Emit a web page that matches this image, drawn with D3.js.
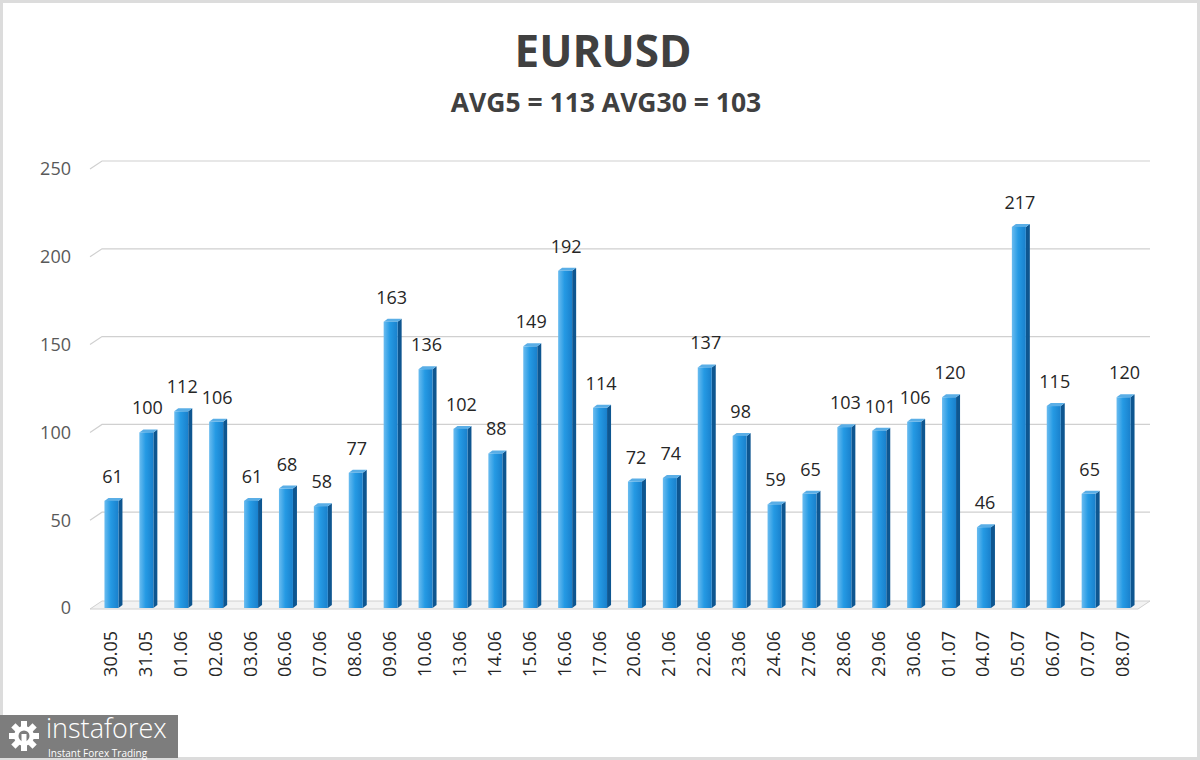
<!DOCTYPE html>
<html><head><meta charset="utf-8">
<script src="https://cdn.jsdelivr.net/npm/d3@7"></script>
<style>html,body{margin:0;padding:0;background:#fff;}svg{display:block;}</style>
</head><body>
<svg id="c" width="1200" height="760"></svg>
<script>
const dates = ["30.05","31.05","01.06","02.06","03.06","06.06","07.06","08.06","09.06","10.06","13.06","14.06","15.06","16.06","17.06","20.06","21.06","22.06","23.06","24.06","27.06","28.06","29.06","30.06","01.07","04.07","05.07","06.07","07.07","08.07"];
const values = [61,100,112,106,61,68,58,77,163,136,102,88,149,192,114,72,74,137,98,59,65,103,101,106,120,46,217,115,65,120];
const yTicks = [0,50,100,150,200,250];
const titleText = "EURUSD";
const subtitleText = "AVG5 = 113 AVG30 = 103";

const svg = d3.select("#c");
const W = 1200, H = 760;
const font = "'Open Sans', sans-serif";

// border
svg.append("rect").attr("x",1.5).attr("y",1.5).attr("width",W-3).attr("height",H-3)
  .attr("fill","#fff").attr("stroke","#dcdcdc").attr("stroke-width",3);

const x = d3.scaleBand().domain(dates).range([96,1143]).paddingInner(0.48).paddingOuter(0.24);
const y = d3.scaleLinear().domain([0,250]).range([608,169]);
const DX = 12, DY = -8;
const left = 90, right = 1138;

// floor
const y0 = y(0);
svg.append("path")
  .attr("d",`M${left},${y0+1}L${right},${y0+1}L${right+DX},${y0+1+DY}L${left+DX},${y0+1+DY}Z`)
  .attr("fill","#f3f3f3").attr("stroke","#d0d0d0").attr("stroke-width",1);

// gridlines (back wall) with diagonal
yTicks.filter(t=>t>0).forEach(t=>{
  const yy = y(t);
  svg.append("path")
    .attr("d",`M${left},${yy}L${left+DX},${yy+DY}L${right+DX},${yy+DY}`)
    .attr("fill","none").attr("stroke","#d0d0d0").attr("stroke-width",1.2);
});

// y labels
svg.append("g").selectAll("text").data(yTicks).join("text")
  .attr("x",71).attr("y",d=>y(d)).attr("dy","0.36em")
  .attr("text-anchor","end").attr("font-family",font).attr("font-size",18)
  .attr("fill","#595959").text(d=>d);

// gradient
const defs = svg.append("defs");
const g = defs.append("linearGradient").attr("id","fg").attr("x1",0).attr("x2",1).attr("y1",0).attr("y2",0);
g.append("stop").attr("offset","0%").attr("stop-color","#6abcf0");
g.append("stop").attr("offset","45%").attr("stop-color","#259ae4");
g.append("stop").attr("offset","100%").attr("stop-color","#1980cc");

const fw = 14, sw = 4, sd = 3;
const bars = svg.append("g").selectAll("g").data(values.map((v,i)=>({v,d:dates[i]}))).join("g");
bars.each(function(o){
  const gg = d3.select(this);
  const cx = x(o.d) + x.bandwidth()/2 - 2;
  const x0 = cx - fw/2, yt = y(o.v), yb = y(0);
  gg.append("path").attr("d",`M${x0+fw},${yt}L${x0+fw+sw},${yt-sd}L${x0+fw+sw},${yb-sd}L${x0+fw},${yb}Z`).attr("fill","#0e5690");
  gg.append("path").attr("d",`M${x0},${yt}L${x0+sw},${yt-sd}L${x0+fw+sw},${yt-sd}L${x0+fw},${yt}Z`).attr("fill","#5aaee6");
  gg.append("rect").attr("x",x0).attr("y",yt).attr("width",fw).attr("height",yb-yt).attr("fill","url(#fg)");
  gg.append("text").attr("x",cx+1).attr("y",yt-18).attr("text-anchor","middle")
    .attr("font-family",font).attr("font-size",18).attr("fill","#262626").text(o.v);
});

// x labels rotated
svg.append("g").selectAll("text").data(dates).join("text")
  .attr("transform",d=>`translate(${x(d)+x.bandwidth()/2-3},631) rotate(-90)`)
  .attr("text-anchor","end").attr("dy","0.36em")
  .attr("font-family",font).attr("font-size",18).attr("fill","#262626").text(d=>d);

// titles
svg.append("text").attr("x",603).attr("y",67).attr("text-anchor","middle")
  .attr("font-family",font).attr("font-weight","bold").attr("font-size",44)
  .attr("fill","#404040").text(titleText);
svg.append("text").attr("x",606).attr("y",112).attr("text-anchor","middle")
  .attr("font-family",font).attr("font-weight","bold").attr("font-size",26.5)
  .attr("fill","#404040").text(subtitleText);

// watermark
const wm = svg.append("g");
wm.append("rect").attr("x",0).attr("y",715).attr("width",178).attr("height",43).attr("fill","#7d7d7d");
const gear = wm.append("g").attr("transform","translate(24,736)");
for(let k=0;k<8;k++){
  gear.append("rect").attr("x",-3).attr("y",-15).attr("width",6).attr("height",7).attr("fill","#fff")
    .attr("transform",`rotate(${k*45})`);
}
gear.append("circle").attr("r",10).attr("fill","#fff");
gear.append("circle").attr("r",5.5).attr("fill","#7d7d7d");
gear.append("rect").attr("x",-2.5).attr("y",-2).attr("width",5).attr("height",14).attr("fill","#fff");
wm.append("text").attr("x",46).attr("y",738).attr("font-family",font).attr("font-size",27)
  .attr("font-weight",300).attr("fill","#fff").text("instaforex");
wm.append("text").attr("x",48).attr("y",757).attr("font-family",font).attr("font-size",10)
  .attr("fill","#fff").text("Instant Forex Trading");
</script>
</body></html>
